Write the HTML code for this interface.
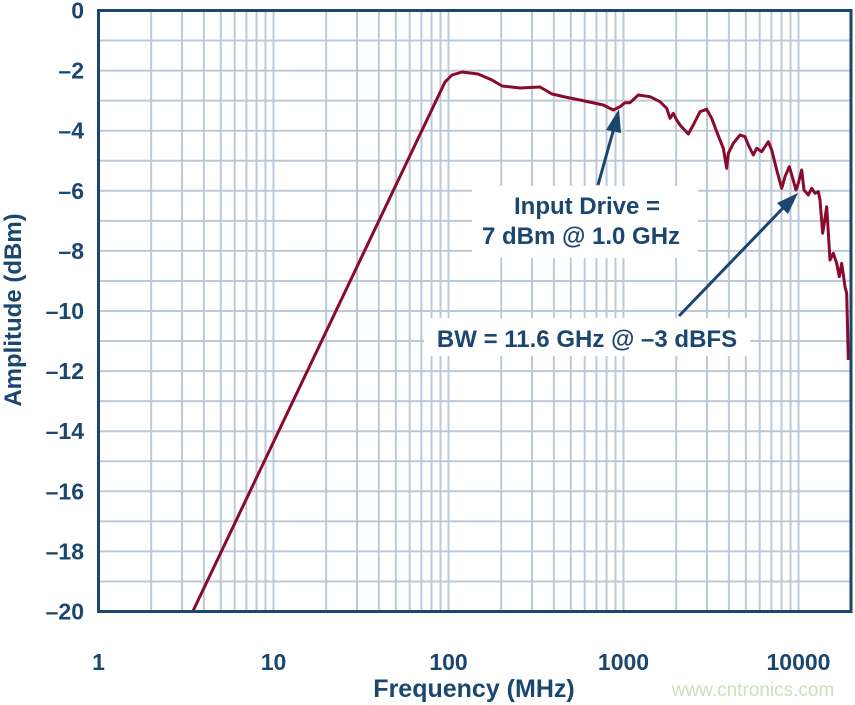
<!DOCTYPE html>
<html><head><meta charset="utf-8"><style>
html,body{margin:0;padding:0;background:#fff;}
svg{display:block;font-family:"Liberation Sans",Arial,sans-serif;}
</style></head><body>
<svg id="s" width="855" height="705" viewBox="0 0 855 705" xmlns="http://www.w3.org/2000/svg">
<g id="grid" stroke="#bccad8" stroke-width="2"></g>
<g id="lab" font-size="23" font-weight="bold" fill="#1a4670"></g>
<polyline id="curve" fill="none" stroke="#8a0a2e" stroke-width="3" stroke-linejoin="round" points=""/>
<rect x="472" y="186" width="226" height="72" fill="#fff"/>
<rect x="424" y="318" width="326" height="38" fill="#fff"/>
<g font-size="24" font-weight="bold" fill="#1a4670" text-anchor="middle">
<text x="587" y="214">Input Drive =</text>
<text x="581" y="244">7 dBm @ 1.0 GHz</text>
<text x="587" y="347">BW = 11.6 GHz @ –3 dBFS</text>
</g>
<g stroke="#1a4670" stroke-width="3" fill="#1a4670">
<line x1="598" y1="185" x2="614" y2="128"/>
<polygon points="619,109 606,130 621,133" stroke="none"/>
<line x1="679" y1="316" x2="784" y2="207"/>
<polygon points="798,193 777,203 788,214" stroke="none"/>
</g>
<path d="M98.5 611.5 V10.5 H851 V611.5 Z" fill="none" stroke="#1a4670" stroke-width="3"/>
<text x="474" y="697" font-size="25" font-weight="bold" fill="#1a4670" text-anchor="middle">Frequency (MHz)</text>
<text transform="translate(21,310) rotate(-90)" font-size="24" font-weight="bold" fill="#1a4670" text-anchor="middle">Amplitude (dBm)</text>
<text x="753" y="696" font-size="19" fill="#c8e3b8" text-anchor="middle">www.cntronics.com</text>
</svg>
<script>
var g=document.getElementById('grid'),L=document.getElementById('lab'),ns='http://www.w3.org/2000/svg';
function X(f){return 98.5+175*Math.log10(f);}
function el(p,t,a){var e=document.createElementNS(ns,t);for(var k in a)e.setAttribute(k,a[k]);p.appendChild(e);return e;}
for(var d=0;d<5;d++)for(var m=1;m<10;m++){var f=m*Math.pow(10,d);if(f>20000)break;if(f==1)continue;var x=X(f);el(g,'line',{x1:x,x2:x,y1:10,y2:611});}
for(var i=1;i<20;i++){var y=10.5+i*30.05;el(g,'line',{x1:98,x2:851,y1:y,y2:y});}
for(var i=0;i<=20;i+=2){var t=el(L,'text',{x:84,y:10.5+i*30.05+8,'text-anchor':'end'});t.textContent=i==0?'0':'–'+i;}
[1,10,100,1000,10000].forEach(function(f){var t=el(L,'text',{x:X(f),y:670,'text-anchor':'middle'});t.textContent=f;});
var pts=[[193,611],[445,82],[452,75],[462,72],[478,74],[492,80],[502,86],[520,88],[540,87],[552,94],[565,97],[580,100]];
var z=[[0,120],[70,135],[100,150],[120,140],[135,128],[150,128],[175,105],[210,110],[240,125],[260,145],[270,175],[280,160],[290,180],[300,195],[325,222],[340,195],[360,155],[380,148],[395,175],[410,215],[430,265],[440,325],[445,280],[460,250],[480,225],[495,230],[505,255],[520,285],[530,265],[545,275],[565,245],[575,270],[590,330],[605,385],[615,350],[628,320],[638,355],[648,390],[655,370],[665,330],[672,390],[685,405],[695,385],[705,400],[715,395],[720,420],[728,520],[740,440],[750,600],[760,580],[770,610],[778,650],[785,610],[795,680],[800,700],[805,900]];
z.forEach(function(p){pts.push([580+p[0]/3,60+p[1]/3]);});
document.getElementById('curve').setAttribute('points',pts.map(function(p){return p[0].toFixed(1)+','+p[1].toFixed(1)}).join(' '));
</script>
</body></html>
